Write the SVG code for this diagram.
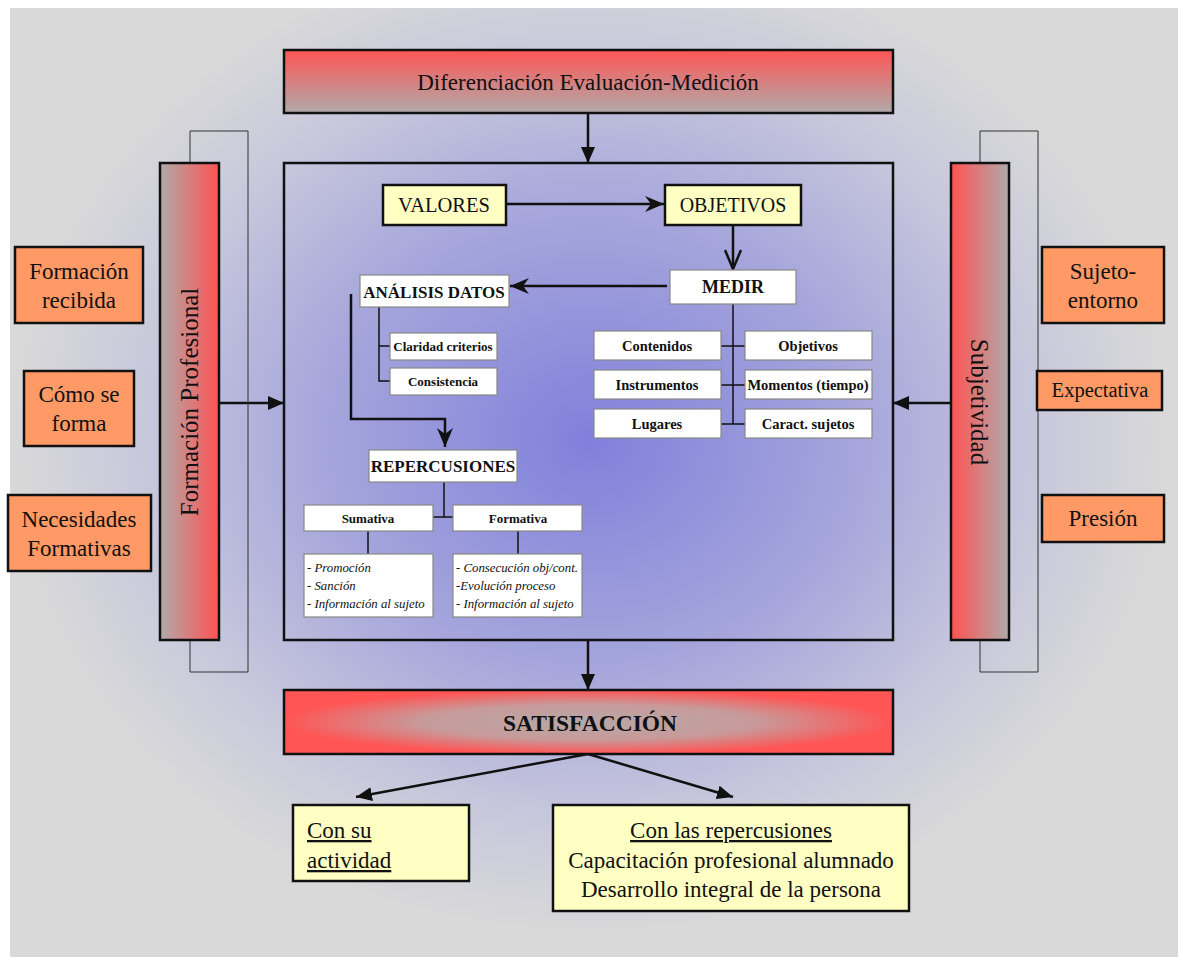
<svg xmlns="http://www.w3.org/2000/svg" width="1178" height="957" viewBox="0 0 1178 957" font-family="'Liberation Serif','Times New Roman',serif">
<style>
text{font-family:"Liberation Serif","Times New Roman",serif;fill:#111;}
.big{font-size:23px;}
.rot{font-size:25px;}
.c{text-anchor:middle;}
.b{font-weight:bold;}
.orange{fill:#ff9966;stroke:#111;stroke-width:2.5;}
.yellow{fill:#ffffc4;stroke:#111;stroke-width:2.5;}
.white{fill:#fff;stroke:#888;stroke-width:1.2;}
.thin{fill:none;stroke:#333;stroke-width:1;}
.ln{fill:none;stroke:#111;stroke-width:2.5;}
.tree{fill:none;stroke:#111;stroke-width:1.5;}
.sm{font-size:13px;font-weight:bold;}
.md{font-size:14.5px;font-weight:bold;}
.it{font-size:12.8px;font-style:italic;}
</style>
<defs>
<radialGradient id="glow" gradientUnits="userSpaceOnUse" cx="590" cy="440" r="600" gradientTransform="translate(590 440) scale(1 0.85) translate(-590 -440)">
<stop offset="0" stop-color="#8080dc"/>
<stop offset="0.45" stop-color="#a6a6dc"/>
<stop offset="0.75" stop-color="#c8c8dc"/>
<stop offset="0.97" stop-color="#d9d9d9"/>
</radialGradient>
<linearGradient id="gTop" x1="0" y1="0" x2="0" y2="1">
<stop offset="0" stop-color="#ff5555"/>
<stop offset="1" stop-color="#b0aaaa"/>
</linearGradient>
<linearGradient id="gLeft" x1="0" y1="0" x2="1" y2="0">
<stop offset="0" stop-color="#b0aaaa"/>
<stop offset="1" stop-color="#ff5252"/>
</linearGradient>
<linearGradient id="gRight" x1="0" y1="0" x2="1" y2="0">
<stop offset="0" stop-color="#ff5252"/>
<stop offset="1" stop-color="#b0aaaa"/>
</linearGradient>
<radialGradient id="gSat" cx="0.5" cy="0.5" r="0.5">
<stop offset="0" stop-color="#b8a8a8"/>
<stop offset="0.55" stop-color="#c89a9a"/>
<stop offset="1" stop-color="#ff5555"/>
</radialGradient>
<marker id="tri" markerUnits="userSpaceOnUse" markerWidth="16" markerHeight="16" refX="16" refY="8" orient="auto">
<path d="M0,1 L16,8 L0,15 z" fill="#111"/>
</marker>
<marker id="stealth" markerUnits="userSpaceOnUse" markerWidth="20" markerHeight="16" refX="19" refY="8" orient="auto">
<path d="M0,0 L19,8 L0,16 L6,8 z" fill="#111"/>
</marker>
<marker id="vee" markerUnits="userSpaceOnUse" markerWidth="22" markerHeight="18" refX="20" refY="9" orient="auto">
<path d="M1,1 L20,9 L1,17" fill="none" stroke="#111" stroke-width="2.5"/>
</marker>
</defs>

<rect x="10" y="8" width="1168" height="949" fill="#d9d9d9"/>
<rect x="10" y="8" width="1168" height="949" fill="url(#glow)"/>

<g id="connectors">
<line class="ln" x1="588" y1="113" x2="588" y2="163" marker-end="url(#tri)"/>
<line class="ln" x1="219" y1="403" x2="284" y2="403" marker-end="url(#tri)"/>
<line class="ln" x1="951" y1="403" x2="893" y2="403" marker-end="url(#tri)"/>
<line class="ln" x1="588" y1="640" x2="588" y2="690" marker-end="url(#tri)"/>
<line class="ln" x1="588" y1="754" x2="356" y2="797" marker-end="url(#tri)"/>
<line class="ln" x1="588" y1="754" x2="733" y2="797" marker-end="url(#tri)"/>
<path class="thin" d="M190,163 V131 H248 V672 H190 V640"/>
<path class="thin" d="M980,163 V131 H1038 V672 H980 V640"/>
<line class="ln" x1="506" y1="204" x2="664" y2="204" marker-end="url(#stealth)"/>
<line class="ln" x1="733" y1="226" x2="733" y2="269" marker-end="url(#vee)"/>
<line class="ln" x1="667" y1="286" x2="510" y2="286" marker-end="url(#stealth)"/>
<path class="ln" d="M351,294 V419 H445 V447" marker-end="url(#stealth)"/>
<path class="tree" d="M379,307 V381 H390 M379,346 H390"/>
<path class="tree" d="M733,304 V424 M721,346 H745 M721,385 H745 M721,424 H745"/>
<path class="tree" d="M444,482 V517 M433,517 H453 M368,531 V554 M518,531 V554"/>
</g>

<g id="n-top">
<rect x="284" y="50" width="609" height="63" fill="url(#gTop)" stroke="#111" stroke-width="2.5"/>
<text class="big c" x="588" y="90">Diferenciación Evaluación-Medición</text>
</g>

<g id="n-center">
<rect x="284" y="163" width="609" height="477" fill="none" stroke="#111" stroke-width="2.5"/>
</g>

<g id="n-formprof">
<rect x="160" y="163" width="59" height="477" fill="url(#gLeft)" stroke="#111" stroke-width="2.5"/>
<text class="rot c" transform="translate(198 402) rotate(-90)">Formación Profesional</text>
</g>

<g id="n-subjetividad">
<rect x="951" y="163" width="58" height="477" fill="url(#gRight)" stroke="#111" stroke-width="2.5"/>
<text class="rot c" transform="translate(971 402) rotate(90)">Subjetividad</text>
</g>

<g id="n-formrec">
<rect class="orange" x="15" y="247" width="128" height="76"/>
<text class="big c" x="79" y="279">Formación</text>
<text class="big c" x="79" y="308">recibida</text>
</g>
<g id="n-comose">
<rect class="orange" x="24" y="371" width="110" height="75"/>
<text class="big c" x="79" y="402">Cómo se</text>
<text class="big c" x="79" y="431">forma</text>
</g>
<g id="n-necesidades">
<rect class="orange" x="8" y="495" width="143" height="76"/>
<text class="big c" x="79" y="527">Necesidades</text>
<text class="big c" x="79" y="556">Formativas</text>
</g>

<g id="n-sujeto">
<rect class="orange" x="1042" y="247" width="122" height="76"/>
<text class="big c" x="1103" y="279">Sujeto-</text>
<text class="big c" x="1103" y="308">entorno</text>
</g>
<g id="n-expectativa">
<rect class="orange" x="1037" y="371" width="125" height="39"/>
<text class="c" x="1100" y="397" style="font-size:20.5px">Expectativa</text>
</g>
<g id="n-presion">
<rect class="orange" x="1042" y="495" width="122" height="47"/>
<text class="big c" x="1103" y="526">Presión</text>
</g>

<g id="n-valores">
<rect class="yellow" x="383" y="185" width="123" height="40"/>
<text class="c" x="444" y="212" style="font-size:20.5px">VALORES</text>
</g>
<g id="n-objetivos">
<rect class="yellow" x="665" y="185" width="136" height="40"/>
<text class="c" x="733" y="212" style="font-size:20px">OBJETIVOS</text>
</g>
<g id="n-medir">
<rect class="white" x="670" y="270" width="126" height="34"/>
<text class="c b" x="733" y="293" style="font-size:18px">MEDIR</text>
</g>
<g id="n-analisis">
<rect class="white" x="360" y="275" width="149" height="32"/>
<text class="c b" x="434" y="298" style="font-size:17px">ANÁLISIS DATOS</text>
</g>
<g id="n-claridad">
<rect class="white" x="390" y="333" width="107" height="27"/>
<text class="c sm" x="443" y="351">Claridad criterios</text>
</g>
<g id="n-consistencia">
<rect class="white" x="390" y="368" width="107" height="27"/>
<text class="c sm" x="443" y="386">Consistencia</text>
</g>

<g id="n-contenidos">
<rect class="white" x="594" y="331" width="127" height="29"/>
<text class="c md" x="657" y="351">Contenidos</text>
</g>
<g id="n-objetivos2">
<rect class="white" x="745" y="331" width="127" height="29"/>
<text class="c md" x="808" y="351">Objetivos</text>
</g>
<g id="n-instrumentos">
<rect class="white" x="594" y="370" width="127" height="29"/>
<text class="c md" x="657" y="390">Instrumentos</text>
</g>
<g id="n-momentos">
<rect class="white" x="745" y="370" width="127" height="29"/>
<text class="c md" x="808" y="390">Momentos (tiempo)</text>
</g>
<g id="n-lugares">
<rect class="white" x="594" y="409" width="127" height="29"/>
<text class="c md" x="657" y="429">Lugares</text>
</g>
<g id="n-caract">
<rect class="white" x="745" y="409" width="127" height="29"/>
<text class="c md" x="808" y="429">Caract. sujetos</text>
</g>

<g id="n-repercusiones">
<rect class="white" x="369" y="450" width="148" height="32"/>
<text class="c b" x="443" y="472" style="font-size:17px">REPERCUSIONES</text>
</g>
<g id="n-sumativa">
<rect class="white" x="304" y="505" width="129" height="26"/>
<text class="c sm" x="368" y="523">Sumativa</text>
</g>
<g id="n-formativa">
<rect class="white" x="453" y="505" width="129" height="26"/>
<text class="c sm" x="518" y="523">Formativa</text>
</g>
<g id="n-sumlist">
<rect class="white" x="304" y="554" width="129" height="63"/>
<text class="it" x="307" y="572">- Promoción</text>
<text class="it" x="307" y="590">- Sanción</text>
<text class="it" x="307" y="608">- Información al sujeto</text>
</g>
<g id="n-formlist">
<rect class="white" x="453" y="554" width="129" height="63"/>
<text class="it" x="456" y="572">- Consecución obj/cont.</text>
<text class="it" x="456" y="590">-Evolución proceso</text>
<text class="it" x="456" y="608">- Información al sujeto</text>
</g>

<g id="n-satisfaccion">
<rect x="284" y="690" width="609" height="64" fill="url(#gSat)" stroke="#111" stroke-width="2.5"/>
<text class="c b" x="590" y="731" style="font-size:23.5px">SATISFACCIÓN</text>
</g>

<g id="n-consu">
<rect class="yellow" x="293" y="805" width="176" height="76"/>
<text class="big" x="307" y="838" text-decoration="underline">Con su</text>
<text class="big" x="307" y="868" text-decoration="underline">actividad</text>
</g>
<g id="n-conlas">
<rect class="yellow" x="553" y="805" width="356" height="106"/>
<text class="big c" x="731" y="838" text-decoration="underline">Con las repercusiones</text>
<text class="big c" x="731" y="868">Capacitación profesional alumnado</text>
<text class="big c" x="731" y="897">Desarrollo integral de la persona</text>
</g>
</svg>
